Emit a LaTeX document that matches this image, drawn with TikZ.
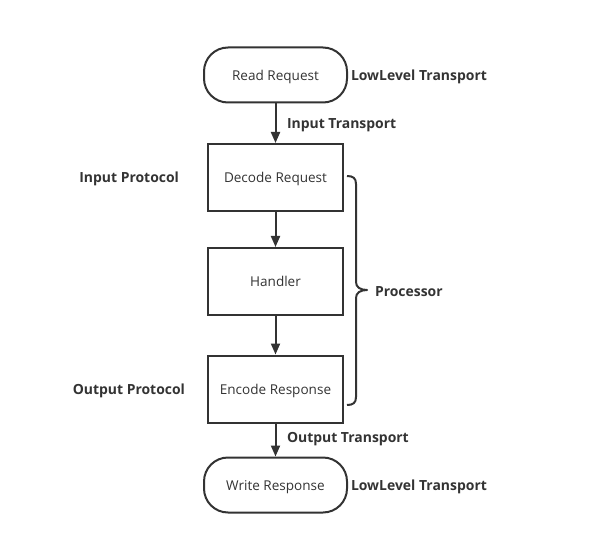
\documentclass[tikz,border=0pt]{standalone}
\usepackage{fontspec}
\setmainfont{Open Sans}
\usetikzlibrary{arrows.meta}
\definecolor{ink}{HTML}{333333}
\begin{document}
\begin{tikzpicture}[x=1bp,y=-1bp,
  line width=2bp, draw=ink,
  box/.style={draw=ink, line width=2bp, minimum width=135bp, minimum height=67bp, inner sep=0pt, text height=13.5bp, text depth=3bp, font=\fontsize{13.6}{16}\selectfont, text=ink},
  term/.style={draw=ink, line width=2bp, rounded corners=24bp, minimum width=143bp, minimum height=55bp, inner sep=0pt, text height=13.5bp, text depth=3bp, font=\fontsize{13.6}{16}\selectfont, text=ink},
  lbl/.style={font=\fontsize{14}{16}\selectfont\bfseries, text=ink, inner sep=0pt, yshift=-1.5bp},
  arr/.style={draw=ink, line width=2bp, -{Triangle[length=11bp,width=9bp]}}]
\useasboundingbox (0,0) rectangle (606,545);
\node[term] (read) at (275.5,75) {Read Request};
\node[box] (dec) at (275.5,177.5) {Decode Request};
\node[box] (hand) at (275.5,281.5) {Handler};
\node[box] (enc) at (275.5,389) {Encode Response};
\node[term] (write) at (275.5,485) {Write Response};
\draw[arr] (read) -- (dec);
\draw[arr] (dec) -- (hand);
\draw[arr] (hand) -- (enc);
\draw[arr] (enc) -- (write);
\node[lbl, anchor=west] (llt1) at (350,75) {LowLevel Transport};
\node[lbl, anchor=west] (llt2) at (350,485) {LowLevel Transport};
\node[lbl, anchor=west] (it) at (286,124) {Input Transport};
\node[lbl, anchor=west] (ot) at (286,438) {Output Transport};
\node[lbl, anchor=east] (ip) at (180,177) {Input Protocol};
\node[lbl, anchor=east] (op) at (186,389) {Output Protocol};
\draw[ink, line width=2bp, line join=round]
  (347,176) .. controls (353,176) and (356,178) .. (356,184)
  -- (356,282) .. controls (356,287) and (360,290) .. (367,290)
  .. controls (360,290) and (356,293) .. (356,298)
  -- (356,397) .. controls (356,403) and (353,405) .. (347,405);
\node[lbl, anchor=west] (proc) at (374,290) {Processor};
\end{tikzpicture}
\end{document}
